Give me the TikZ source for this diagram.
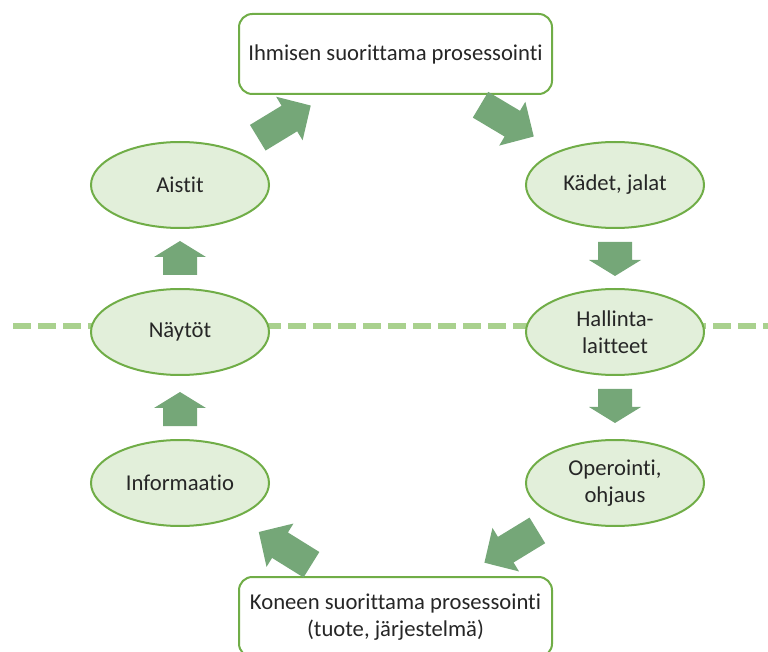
\documentclass[tikz,border=0pt]{standalone}
\usepackage{fontspec}
\setmainfont{Carlito}[Ligatures=NoCommon]
\usetikzlibrary{shapes.geometric,calc}
\definecolor{rim}{HTML}{70AD47}
\definecolor{pale}{HTML}{E2EFDA}
\definecolor{divider}{HTML}{A9D18E}
\definecolor{flowgreen}{RGB}{117,167,120}
\definecolor{ink}{HTML}{262626}
\tikzset{
  label font/.style={text=ink,font=\fontsize{17}{20}\selectfont},
  stage/.style={ellipse,draw=rim,fill=pale,line width=1.5pt,
    minimum width=133.5pt,minimum height=64.5pt,inner sep=1pt,align=center,label font},
  process/.style={rectangle,rounded corners=10pt,draw=rim,fill=white,line width=1.5pt,
    minimum width=234.75pt,minimum height=60pt,align=center,label font}
}
% block arrow on the line between two node centres
% #1 from, #2 to, #3 tail, #4 head base, #5 tip, #6 half shaft, #7 half head
\newcommand{\flowarrow}[7]{%
  \coordinate (fa-t) at ($(#1)!#3!(#2)$);
  \coordinate (fa-h) at ($(#1)!#4!(#2)$);
  \fill[flowgreen] ($(fa-t)!#6!90:(#2)$) -- ($(fa-h)!#6!90:(#2)$) -- ($(fa-h)!#7!90:(#2)$)
    -- ($(#1)!#5!(#2)$) -- ($(fa-h)!#7!-90:(#2)$) -- ($(fa-h)!#6!-90:(#2)$)
    -- ($(fa-t)!#6!-90:(#2)$) -- cycle;
}
\begin{document}
\begin{tikzpicture}[x=0.75pt,y=-0.75pt]
  \useasboundingbox (0,0) rectangle (768,652);
  %\draw[help lines,step=50] (0,0) grid (768,652);
  \coordinate (divL) at (13,326);
  \coordinate (divR) at (768,326);
  \draw[divider,line width=4.5pt,dash pattern=on 13.5pt off 5.25pt] (divL) -- (divR);

  \node[process] (human) at (395.5,54) {Ihmisen suorittama prosessointi};
  \node[process] (machine) at (395.5,617) {Koneen suorittama prosessointi\\(tuote, järjestelmä)};

  \node[stage] (aistit) at (180,185) {Aistit};
  \node[stage] (naytot) at (180,332) {Näytöt};
  \node[stage] (informaatio) at (180,483) {Informaatio};

  \node[stage] (kadet) at (615,185) {Kädet, jalat};
  \node[stage] (hallinta) at (615,332) {Hallinta-\\laitteet};
  \node[stage] (operointi) at (615,483) {Operointi,\\ohjaus};

  \flowarrow{aistit}{human}{68.25pt}{96pt}{114.75pt}{11.25pt}{19.125pt}
  \flowarrow{human}{kadet}{74.25pt}{102pt}{120.75pt}{11.25pt}{19.125pt}
  \flowarrow{operointi}{machine}{68.25pt}{96pt}{114.75pt}{11.25pt}{19.125pt}
  \flowarrow{machine}{informaatio}{74.25pt}{102pt}{120.75pt}{11.25pt}{19.125pt}

  \flowarrow{kadet}{hallinta}{42.75pt}{56.25pt}{68.25pt}{12.75pt}{19.5pt}
  \flowarrow{hallinta}{operointi}{42.75pt}{56.25pt}{68.25pt}{12.75pt}{19.5pt}
  \flowarrow{informaatio}{naytot}{42.75pt}{56.25pt}{68.25pt}{12.75pt}{19.5pt}
  \flowarrow{naytot}{aistit}{42.75pt}{56.25pt}{68.25pt}{12.75pt}{19.5pt}
\end{tikzpicture}
\end{document}
